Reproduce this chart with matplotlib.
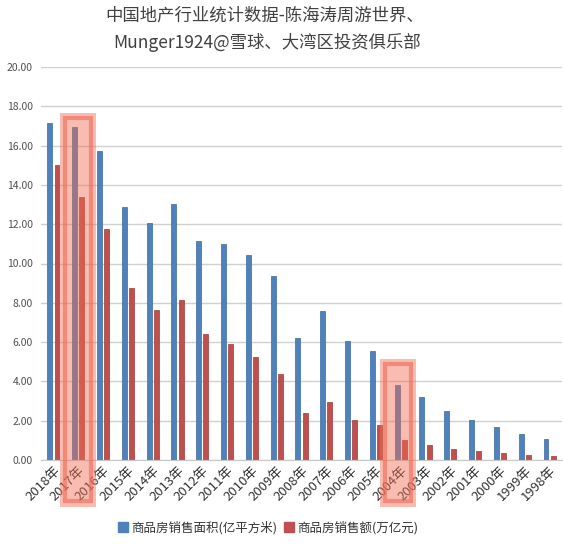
import matplotlib.pyplot as plt
from matplotlib.patches import Rectangle
from matplotlib.lines import Line2D
from matplotlib.transforms import ScaledTranslation
import numpy as np

plt.rcParams['font.family'] = ['Noto Sans CJK SC', 'DejaVu Sans']

# data
years = ['2018年', '2017年', '2016年', '2015年', '2014年', '2013年', '2012年',
         '2011年', '2010年', '2009年', '2008年', '2007年', '2006年', '2005年',
         '2004年', '2003年', '2002年', '2001年', '2000年', '1999年', '1998年']
area = [17.17, 16.94, 15.73, 12.85, 12.06, 13.05, 11.13, 10.99, 10.43, 9.37,
        6.20, 7.60, 6.05, 5.56, 3.82, 3.19, 2.47, 2.05, 1.67, 1.31, 1.05]
sales = [15.00, 13.37, 11.76, 8.73, 7.63, 8.14, 6.43, 5.91, 5.25, 4.40,
         2.39, 2.94, 2.02, 1.76, 1.03, 0.76, 0.56, 0.44, 0.34, 0.25, 0.20]
series_names = ['商品房销售面积(亿平方米)', '商品房销售额(万亿元)']
y_ticks = [0, 2, 4, 6, 8, 10, 12, 14, 16, 18, 20]
# highlighted years: (index, box top)
highlights = [(1, 17.66), (14, 5.14)]

blue = '#4f81bd'
red = '#c0504d'

fig = plt.figure(figsize=(5.63, 5.49), dpi=100)
ax = fig.add_axes([41 / 563, 1 - 460 / 549, 521 / 563, 393 / 549])

x = np.arange(len(years))
w = 0.2
ax.bar(x - 0.145, area, w, color=blue, edgecolor='#3a6a9f', linewidth=0.5, zorder=2)
ax.bar(x + 0.145, sales, w, color=red, edgecolor='#9c3b38', linewidth=0.5, zorder=2)

ax.set_xlim(-0.5, len(years) - 0.5)
ax.set_ylim(0, 20)
ax.set_yticks(y_ticks)
ax.set_yticklabels(['%.2f' % v for v in y_ticks], fontsize=7.5, color='#505050')
ax.set_xticks(x)
ax.set_xticklabels(years, rotation=45, ha='right', rotation_mode='anchor',
                   fontsize=9.5, color='#333333')
shift = ScaledTranslation(-6 / 100, 0, fig.dpi_scale_trans)
for lab in ax.get_xticklabels():
    lab.set_transform(lab.get_transform() + shift)
ax.tick_params(length=0)
ax.tick_params(axis='x', pad=3)
ax.tick_params(axis='y', pad=6)
ax.grid(axis='y', color='#d0d0d0', linewidth=1)
ax.set_axisbelow(True)
for s in ['top', 'right', 'left']:
    ax.spines[s].set_visible(False)
ax.spines['bottom'].set_color('#c8c8c8')

# red highlight boxes
for i, top in highlights:
    off = 0.1 if i > 5 else 0
    x0, x1, bot = i - 0.72 - off, i + 0.70 - off, -2.4
    ax.add_patch(Rectangle((x0, bot), x1 - x0, top - bot, facecolor='#f26b52',
                           alpha=0.45, edgecolor='none', zorder=3, clip_on=False))
    ax.add_patch(Rectangle((x0 + 0.2, bot + 0.3), x1 - x0 - 0.38, top - bot - 0.55,
                           fill=False, edgecolor='#ee6a55', alpha=0.6, linewidth=3,
                           zorder=3, clip_on=False))

fig.text(0.47, 1 - 16 / 549, '中国地产行业统计数据-陈海涛周游世界、', ha='center',
         va='center', fontsize=12.5, color='#404040', fontweight='light')
fig.text(0.475, 1 - 43 / 549, 'Munger1924@雪球、大湾区投资俱乐部', ha='center',
         va='center', fontsize=12.5, color='#404040', fontweight='light')

handles = [Line2D([], [], marker='s', linestyle='none', markersize=7, color=c)
           for c in (blue, red)]
fig.legend(handles, series_names, loc='center', bbox_to_anchor=(0.475, 1 - 528 / 549),
           ncol=2, frameon=False, fontsize=9, handletextpad=0.1, columnspacing=0.5,
           handlelength=1, labelcolor='#333333')

fig.savefig('out.png', dpi=100)
